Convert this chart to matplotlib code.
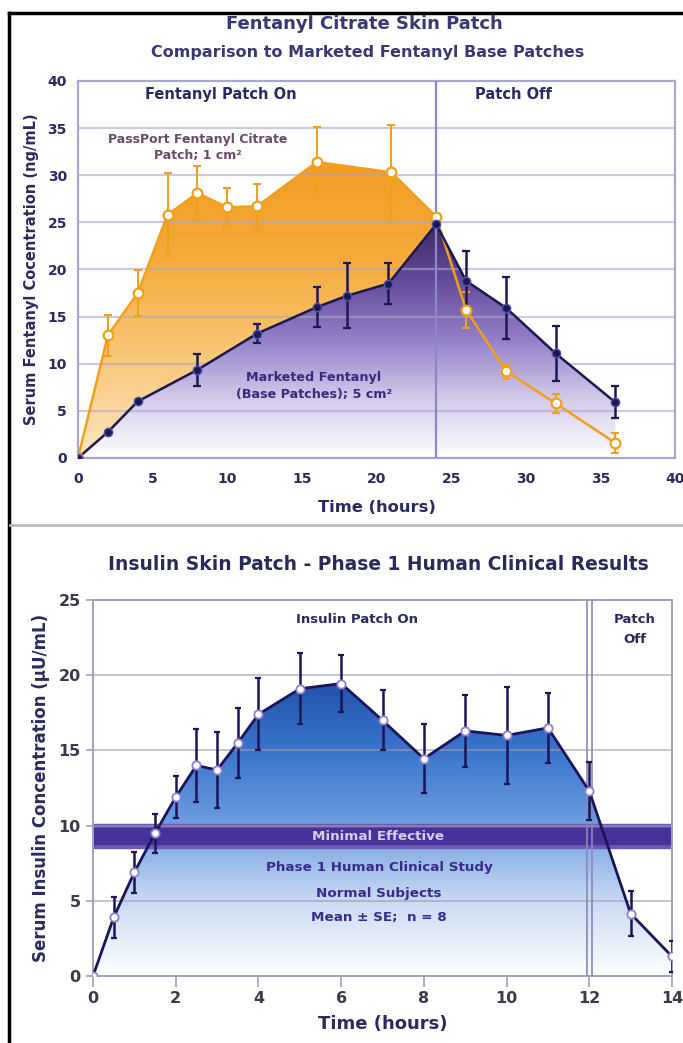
import numpy as np
import matplotlib
matplotlib.use("Agg")
import matplotlib.pyplot as plt
from matplotlib.colors import LinearSegmentedColormap
from matplotlib.patches import Polygon
from matplotlib.lines import Line2D

plt.rcParams['font.family'] = ['DejaVu Sans']
plt.rcParams['font.weight'] = 'bold'
plt.rcParams['axes.labelweight'] = 'bold'

# Fentanyl citrate patch (orange)
fc_time = [0, 2, 4, 6, 8, 10, 12, 16, 21, 24, 26, 28.7, 32, 36]
fc_conc = [0, 13.0, 17.5, 25.8, 28.1, 26.6, 26.7, 31.4, 30.3, 25.6, 15.7, 9.2, 5.8, 1.6]
fc_err = [0, 2.2, 2.4, 4.4, 2.9, 2.0, 2.4, 3.7, 5.0, 0, 1.9, 0.8, 1.0, 1.1]

# Marketed fentanyl base patch (purple)
fb_time = [0, 2, 4, 8, 12, 16, 18, 20.8, 24, 26, 28.7, 32, 36]
fb_conc = [0, 2.75, 6.0, 9.35, 13.2, 16.0, 17.2, 18.5, 24.8, 18.8, 15.9, 11.1, 5.9]
fb_err = [0, 0, 0, 1.7, 1.0, 2.15, 3.45, 2.2, 0, 3.2, 3.25, 2.9, 1.7]

# Insulin patch
ins_time = [0, 0.5, 1, 1.5, 2, 2.5, 3, 3.5, 4, 5, 6, 7, 8, 9, 10, 11, 12, 13, 14]
ins_conc = [0, 3.9, 6.9, 9.5, 11.9, 14.0, 13.7, 15.5, 17.4, 19.1, 19.45, 17.0, 14.45, 16.3, 16.0, 16.5, 12.3, 4.15, 1.3]
ins_err = [0, 1.35, 1.35, 1.3, 1.4, 2.4, 2.5, 2.3, 2.4, 2.35, 1.9, 2.0, 2.3, 2.4, 3.2, 2.35, 1.9, 1.5, 1.0]

min_effective = (8.5, 10.1)

navy = "#2b2a5e"
grid_c = "#a9a8cc"


def grad_fill(ax, x, y, colors, ymax, z):
    verts = [(x[0], 0)] + list(zip(x, y)) + [(x[-1], 0)]
    poly = Polygon(verts, closed=True, facecolor='none', edgecolor='none')
    ax.add_patch(poly)
    cmap = LinearSegmentedColormap.from_list('g', colors)
    grad = np.linspace(0, 1, 256).reshape(-1, 1)
    im = ax.imshow(grad, cmap=cmap, origin='lower', aspect='auto',
                   extent=[x[0], x[-1], 0, ymax], zorder=z, interpolation='bilinear')
    im.set_clip_path(poly)


fig = plt.figure(figsize=(6.83, 10.43), dpi=100)

# ---------------- top chart ----------------
ax1 = fig.add_axes([0.1142, 0.5609, 0.8741, 0.3615])
grad_fill(ax1, fc_time, fc_conc, ["#fde6c2", "#f9c878", "#f5aa3a", "#f29c22"], 32, 1)
grad_fill(ax1, fb_time, fb_conc, ["#ffffff", "#d4cbea", "#9580c8", "#654c9c", "#3e2860"], 25, 2)
ax1.plot(fc_time, fc_conc, color="#f0a01c", lw=1.8, zorder=4)
ax1.errorbar(fc_time, fc_conc, yerr=fc_err, fmt='none', ecolor="#f0a01c",
             elinewidth=1.5, capsize=3, capthick=1.5, zorder=4)
ax1.plot(fc_time, fc_conc, 'o', ms=7, mfc='white', mec="#f0a01c", mew=1.6, zorder=6)
ax1.plot(fb_time, fb_conc, color="#1c1850", lw=1.8, zorder=5)
ax1.errorbar(fb_time, fb_conc, yerr=fb_err, fmt='none', ecolor="#1c1850",
             elinewidth=1.8, capsize=3, capthick=1.6, zorder=5)
ax1.plot(fb_time, fb_conc, 'o', ms=6, mfc="#1c1850", mec="#5050b0", mew=1.0, zorder=6)

for v in range(5, 40, 5):
    ax1.axhline(v, color=grid_c, lw=1.6, alpha=0.6, zorder=3)
ax1.axvline(24, color="#8a88c8", lw=1.6, zorder=3.5)
ax1.set_xlim(0, 40)
ax1.set_ylim(0, 40)
ax1.set_xticks(range(0, 41, 5))
ax1.set_yticks(range(0, 41, 5))
for s in ax1.spines.values():
    s.set_color(grid_c)
    s.set_linewidth(1.6)
ax1.tick_params(length=0, labelsize=10, labelcolor=navy)
ax1.tick_params(axis='x', pad=10)
ax1.tick_params(axis='y', pad=8)
ax1.set_xlabel("Time (hours)", fontsize=11.7, color=navy, labelpad=10)
ax1.set_ylabel("Serum Fentanyl Cocentration (ng/mL)", fontsize=10.5, color=navy, labelpad=6)

ax1.text(9.55, 38.6, "Fentanyl Patch On", ha='center', va='center', fontsize=10.5, color=navy)
ax1.text(29.2, 38.6, "Patch Off", ha='center', va='center', fontsize=10.5, color=navy)
ax1.text(8.0, 33.8, "PassPort Fentanyl Citrate", ha='center', va='center',
         fontsize=9, color="#6a4a6a", zorder=7)
ax1.text(8.0, 32.1, "Patch; 1 cm²", ha='center', va='center',
         fontsize=9, color="#6a4a6a", zorder=7)
ax1.text(15.8, 8.5, "Marketed Fentanyl", ha='center', va='center',
         fontsize=9.2, color="#3a2a7a", zorder=7)
ax1.text(15.8, 6.7, "(Base Patches); 5 cm²", ha='center', va='center',
         fontsize=9.2, color="#3a2a7a", zorder=7)

# ---------------- bottom chart ----------------
ax2 = fig.add_axes([0.1362, 0.0642, 0.8477, 0.3605])
grad_fill(ax2, ins_time, ins_conc, ["#ffffff", "#c8daf3", "#6f9ee0", "#3a74cc", "#1f4fa8"], 20, 1)
ax2.axhspan(min_effective[0], min_effective[1], color="#6e58b2", zorder=2)
ax2.axhspan(min_effective[0] + 0.3, min_effective[1] - 0.25, color="#47329c", zorder=2.1)
for v in range(5, 25, 5):
    ax2.axhline(v, color="#9c9cb8", lw=1.4, alpha=0.6, zorder=3)
ax2.axvline(11.95, color="#8a88b8", lw=1.2, zorder=3.5)
ax2.axvline(12.07, color="#8a88b8", lw=1.2, zorder=3.5)
ax2.plot(ins_time, ins_conc, color="#1a1458", lw=2.0, zorder=4)
ax2.errorbar(ins_time, ins_conc, yerr=ins_err, fmt='none', ecolor="#1a1458",
             elinewidth=1.8, capsize=2.5, capthick=1.6, zorder=4)
ax2.plot(ins_time, ins_conc, 'o', ms=6, mfc='white', mec="#9080d0", mew=1.3, zorder=6)

ax2.set_xlim(0, 14)
ax2.set_ylim(0, 25)
ax2.set_xticks(range(0, 15, 2))
ax2.set_yticks(range(0, 26, 5))
for s in ax2.spines.values():
    s.set_color("#a0a0b8")
    s.set_linewidth(1.4)
ax2.tick_params(length=5, width=1.2, color="#a0a0b8", labelsize=11.5, labelcolor="#3a3a4a")
ax2.tick_params(axis='x', length=8, pad=3)
ax2.tick_params(axis='y', pad=4)
ax2.set_xlabel("Time (hours)", fontsize=13, color=navy, labelpad=6)
ax2.set_ylabel("Serum Insulin Concentration (µU/mL)", fontsize=12, color=navy, labelpad=6)

ax2.text(6.38, 23.7, "Insulin Patch On", ha='center', va='center', fontsize=9.5, color=navy)
ax2.text(13.1, 23.7, "Patch", ha='center', va='center', fontsize=9.5, color=navy)
ax2.text(13.1, 22.4, "Off", ha='center', va='center', fontsize=9.5, color=navy)
ax2.text(6.9, 9.25, "Minimal Effective", ha='center', va='center', fontsize=9.7,
         color="#d6cff0", zorder=5)
ax2.text(6.92, 7.24, "Phase 1 Human Clinical Study", ha='center', va='center', fontsize=9.7,
         color="#3a2a8a", zorder=5)
ax2.text(6.92, 5.5, "Normal Subjects", ha='center', va='center', fontsize=9.7,
         color="#3a2a8a", zorder=5)
ax2.text(6.92, 3.9, "Mean ± SE;  n = 8", ha='center', va='center', fontsize=9.7,
         color="#3a2a8a", zorder=5)

# titles
fig.text(364 / 683, 1 - 24 / 1043, "Fentanyl Citrate Skin Patch", ha='center', va='center',
         fontsize=13, color="#3a3872")
fig.text(368 / 683, 1 - 53 / 1043, "Comparison to Marketed Fentanyl Base Patches", ha='center',
         va='center', fontsize=11.5, color="#3a3872")
fig.text(378 / 683, 1 - 565 / 1043, "Insulin Skin Patch - Phase 1 Human Clinical Results",
         ha='center', va='center', fontsize=13.4, color="#2a2a5a")

# frame lines and separator
fig.add_artist(Line2D([9 / 683, 9 / 683], [0, 1 - 13 / 1043], color='black', lw=2.5))
fig.add_artist(Line2D([9 / 683, 1], [1 - 13 / 1043, 1 - 13 / 1043], color='black', lw=2.5))
fig.add_artist(Line2D([10 / 683, 1], [1 - 525 / 1043, 1 - 525 / 1043], color='#b8b8c0', lw=2))

fig.savefig("out.png", dpi=100)
